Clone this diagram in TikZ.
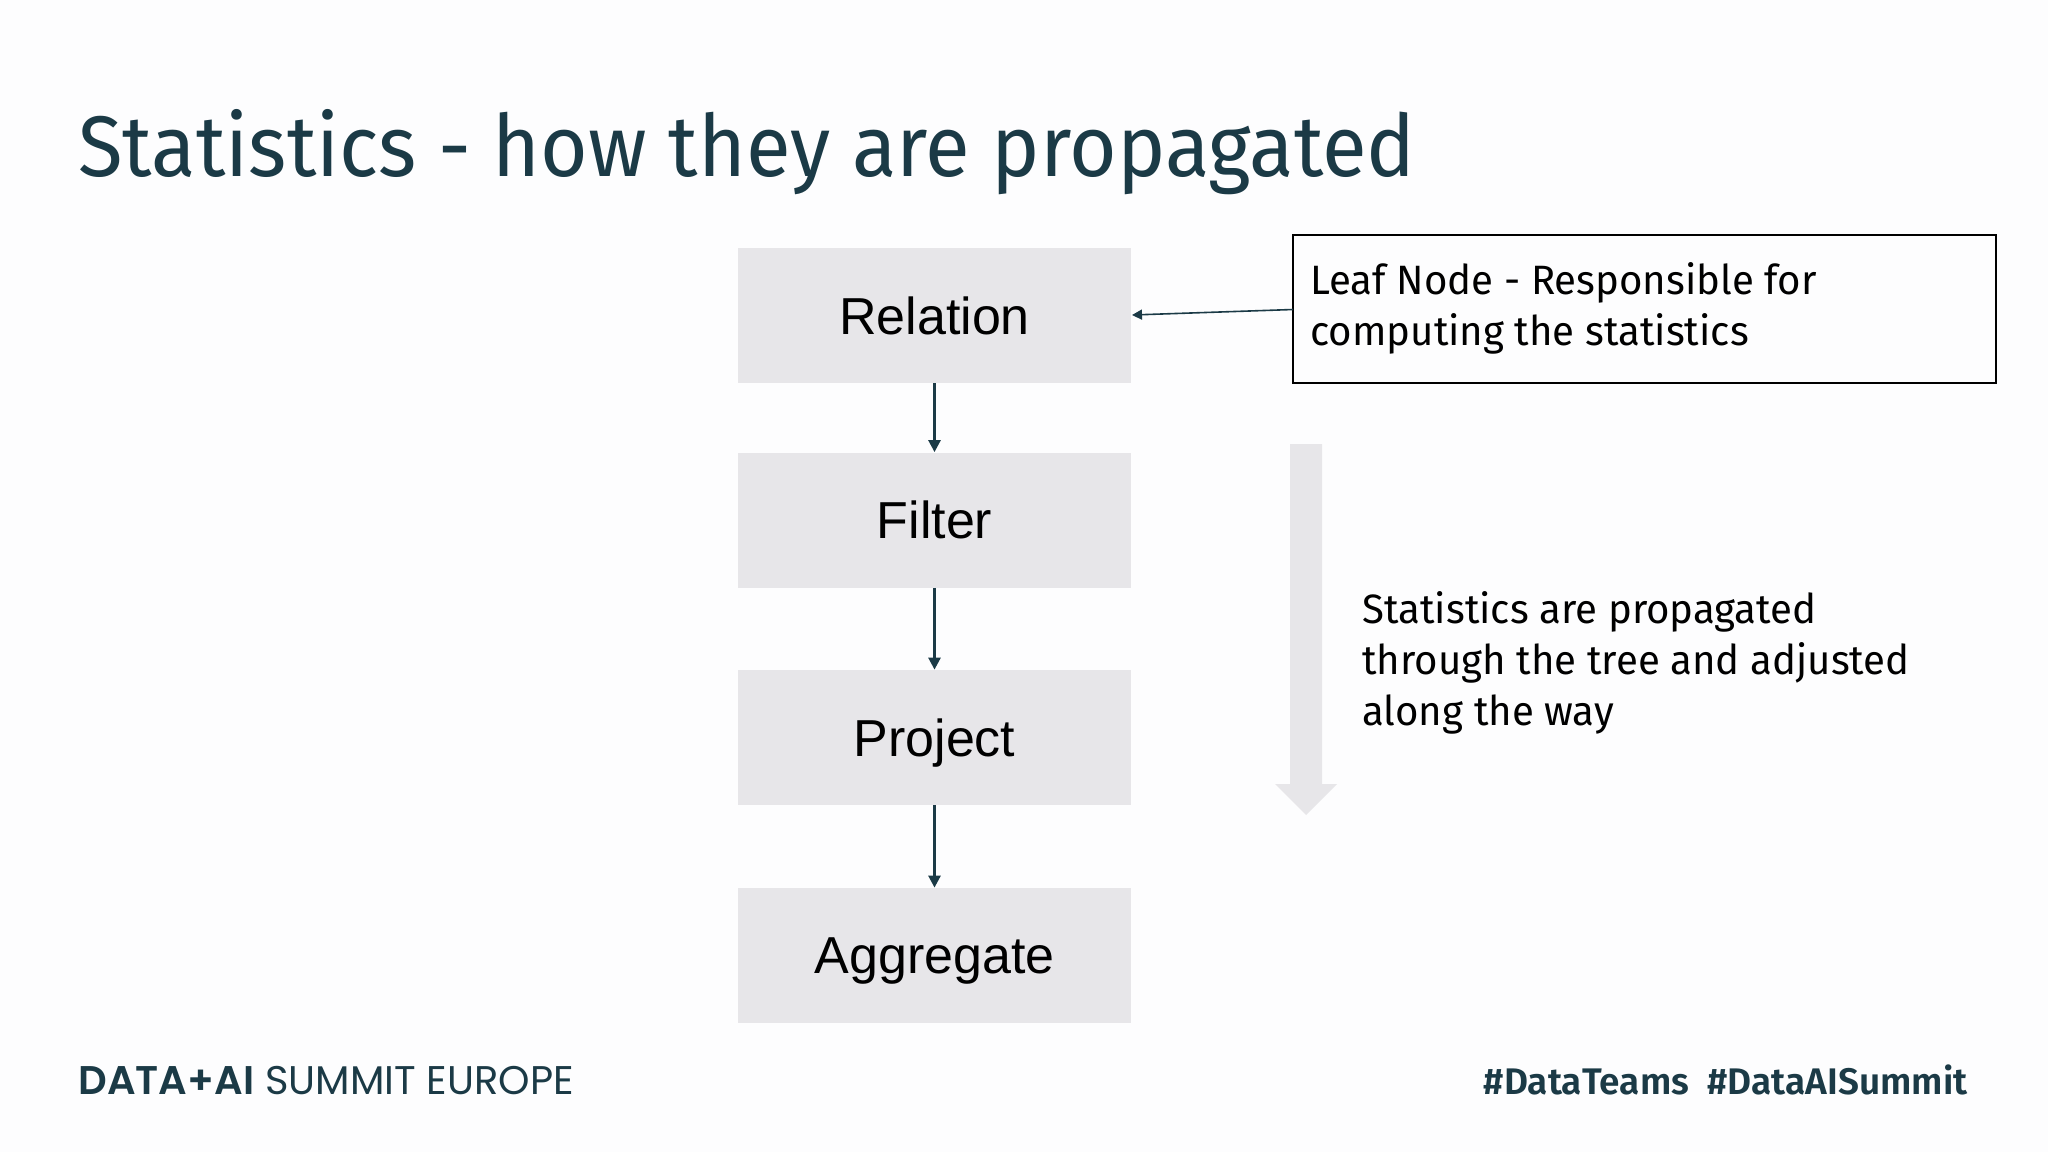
\documentclass[tikz,border=0pt]{standalone}
\usepackage{fontspec}
\setmainfont{Liberation Sans}
\newfontfamily\barlow[FakeStretch=0.98]{Fira Sans}
\newfontfamily\barlowt[FakeStretch=0.95]{Fira Sans}
\newfontfamily\barlowb{Fira Sans SemiBold}
\newfontfamily\geo{Poppins}
\newfontfamily\geob{Poppins SemiBold}
\usetikzlibrary{arrows.meta}
\definecolor{navy}{HTML}{1B3A46}
\definecolor{boxgray}{HTML}{E7E6E9}
\definecolor{bg}{HTML}{FDFDFE}
\tikzset{
  opbox/.style={fill=boxgray, draw=none, minimum width=196.5pt, minimum height=67.5pt, inner sep=0pt, text depth=0pt, font=\fontsize{26}{30}\selectfont, text=black},
  flow/.style={draw=navy, line width=1.3pt, -{Triangle[length=6pt,width=6pt]}},
  bodytext/.style={font=\barlow\fontsize{20.5}{25.5}\selectfont, text=black, align=left, inner sep=0pt}
}
\begin{document}
\begin{tikzpicture}[x=0.5pt,y=-0.5pt]
\path[fill=bg] (0,0) rectangle (2048,1152);
\useasboundingbox (0,0) rectangle (2048,1152);
% title
\node[anchor=base west, inner sep=0pt, text=navy, font=\barlowt\fontsize{43}{50}\selectfont] (title) at (78,176) {Statistics - how they are propagated};
% operator boxes
\node[opbox] (rel) at (934.5,315.5) {Relation};
\node[opbox] (fil) at (934.5,520) {Filter};
\node[opbox] (pro) at (934.5,737.5) {Project};
\node[opbox] (agg) at (934.5,955.5) {Aggregate};
\draw[flow] (rel.south) -- (fil.north);
\draw[flow] (fil.south) -- (pro.north);
\draw[flow] (pro.south) -- (agg.north);
% leaf box
\node[draw=black, line width=0.7pt, minimum width=351.5pt, minimum height=74pt, inner sep=0pt] (leaf) at (1644.5,309) {};
\node[bodytext, anchor=north west] (leaftext) at (1310,262) {Leaf Node - Responsible for\\computing the statistics};
\coordinate (leafin) at (1293,309.5);
\coordinate (relin) at (1132,315);
\draw[flow, line width=0.8pt, -{Triangle[length=5pt,width=5pt]}] (leafin) -- (relin);
% big propagation arrow
\path[fill=boxgray] (1290,444) -- (1322,444) -- (1322,784) -- (1337,784) -- (1306,815) -- (1275,784) -- (1290,784) -- cycle;
\node[bodytext, anchor=north west] (prop) at (1362,591) {Statistics are propagated\\through the tree and adjusted\\along the way};
% footer
\node[anchor=base west, inner sep=0pt, text=navy, font=\fontsize{20}{22}\selectfont] (brand) at (78,1094) {{\geob DATA+AI} {\geo SUMMIT EUROPE}};
\node[anchor=base east, inner sep=0pt, text=navy, font=\barlowb\fontsize{18.5}{20}\selectfont] (tags) at (1968,1094) {\#DataTeams\enspace\#DataAISummit};
\end{tikzpicture}
\end{document}
